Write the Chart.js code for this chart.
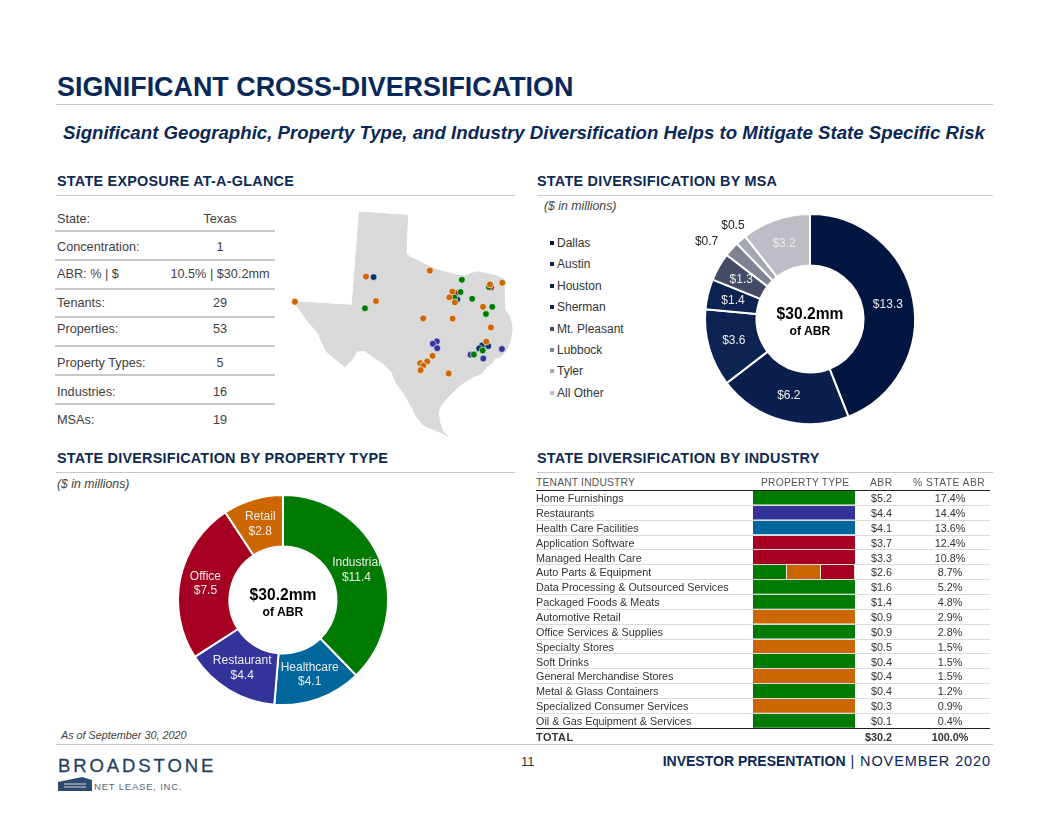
<!DOCTYPE html>
<html>

<head>
	<meta charset="utf-8">
	<title>Significant Cross-Diversification</title>
	<script src="https://cdn.jsdelivr.net/npm/chart.js@4"></script>
	<style>
		html, body { margin: 0; background: #fff; }
		#page { position: relative; width: 1056px; height: 816px; overflow: hidden; font-family: "Liberation Sans", Arial, sans-serif; color: #333; }
		#page div, #page canvas { position: absolute; white-space: nowrap; }
		.rule { background: #c8c8c8; height: 1px; }
		.head { font-weight: bold; font-size: 14.4px; color: #0c2a52; top: 173px; letter-spacing: .25px; }
		.note { font-style: italic; font-size: 12.3px; color: #404040; }
		.center { text-align: center; font-weight: bold; color: #000; width: 120px; }
		.c1 { font-size: 15.6px; }
		.c2 { font-size: 12.2px; }
		.st { font-size: 12.7px; color: #404040; }
		.tb { font-size: 10.8px; color: #333; }
		.th { font-size: 10.3px; color: #555; letter-spacing: .45px; }
	</style>
</head>

<body>
	<div id="page">
		<div style="left:57px;top:72px;font-size:26.9px;font-weight:bold;color:#0a2857;">SIGNIFICANT CROSS-DIVERSIFICATION</div>
		<div class="rule" style="left:56px;top:104px;width:937px;"></div>
		<div style="left:63px;top:122px;font-size:18.67px;font-weight:bold;font-style:italic;color:#0a2857;">Significant Geographic, Property Type, and Industry Diversification Helps to Mitigate State Specific Risk</div>

		<div class="head" style="left:57px;">STATE EXPOSURE AT-A-GLANCE</div>
		<div class="rule" style="left:56px;top:195px;width:459px;"></div>
		<div class="head" style="left:537px;">STATE DIVERSIFICATION BY MSA</div>
		<div class="rule" style="left:537px;top:195px;width:456px;"></div>
		<div class="note" style="left:544px;top:199px;">($ in millions)</div>

		<div class="head" style="left:57px;top:450px;">STATE DIVERSIFICATION BY PROPERTY TYPE</div>
		<div class="rule" style="left:56px;top:472px;width:459px;"></div>
		<div class="note" style="left:57px;top:477px;">($ in millions)</div>
		<div class="head" style="left:537px;top:450px;">STATE DIVERSIFICATION BY INDUSTRY</div>
		<div class="rule" style="left:537px;top:472px;width:456px;"></div>

		<canvas id="mapChart" width="240" height="240" style="left:280px;top:200px;"></canvas>
		<canvas id="msaChart" width="240" height="240" style="left:690px;top:199px;"></canvas>
		<canvas id="typeChart" width="240" height="240" style="left:163px;top:480px;"></canvas>

		<div class="center c1" style="left:750px;top:305px;">$30.2mm</div>
		<div class="center c2" style="left:750px;top:324px;">of ABR</div>
		<div class="center c1" style="left:223px;top:586px;">$30.2mm</div>
		<div class="center c2" style="left:223px;top:605px;">of ABR</div>

		<div class="note" style="left:61px;top:729px;font-size:10.8px;">As of September 30, 2020</div>
		<div class="rule" style="left:56px;top:744px;width:937px;"></div>

		<div style="left:58px;top:755px;font-size:18.5px;letter-spacing:2.9px;color:#1f3f66;-webkit-text-stroke:.3px #1f3f66;">BROADSTONE</div>
		<svg style="position:absolute;left:58px;top:777px;" width="34" height="15">
			<path d="M0 5 L24 0 L34 3 L34 14 L0 14 Z" fill="#2d4a6e"></path>
			<path d="M6 7 H28 M6 10 H28" stroke="#fff" stroke-width=".8"></path>
		</svg>
		<div style="left:94px;top:781px;font-size:9.5px;letter-spacing:.8px;color:#55667e;">NET LEASE, INC.</div>

		<div style="left:521px;top:754px;font-size:13px;color:#333;">11</div>
		<div style="right:65px;top:753px;font-size:14px;color:#0a2857;"><b>INVESTOR PRESENTATION</b><span style="font-size:14.5px;letter-spacing:.9px;"> | NOVEMBER 2020</span></div>

		<canvas id="barChart" width="102" height="238" style="left:753px;top:490px;"></canvas>
	</div>

	<script>
		// state summary
		var stateLabels = ["State:", "Concentration:", "ABR: % | $", "Tenants:", "Properties:", "Property Types:", "Industries:", "MSAs:"];
		var stateValues = ["Texas", "1", "10.5% | $30.2mm", "29", "53", "5", "16", "19"];

		// by MSA
		var msaLabels = ["Dallas", "Austin", "Houston", "Sherman", "Mt. Pleasant", "Lubbock", "Tyler", "All Other"];
		var msaValues = [13.3, 6.2, 3.6, 1.4, 1.3, 0.7, 0.5, 3.2];

		// by property type
		var typeLabels = ["Industrial", "Healthcare", "Restaurant", "Office", "Retail"];
		var typeValues = [11.4, 4.1, 4.4, 7.5, 2.8];

		// by industry
		var industryNames = ["Home Furnishings", "Restaurants", "Health Care Facilities", "Application Software", "Managed Health Care", "Auto Parts & Equipment", "Data Processing & Outsourced Services", "Packaged Foods & Meats", "Automotive Retail", "Office Services & Supplies", "Specialty Stores", "Soft Drinks", "General Merchandise Stores", "Metal & Glass Containers", "Specialized Consumer Services", "Oil & Gas Equipment & Services"];
		var industryAbr = [5.2, 4.4, 4.1, 3.7, 3.3, 2.6, 1.6, 1.4, 0.9, 0.9, 0.5, 0.4, 0.4, 0.4, 0.3, 0.1];
		var industryPct = [17.4, 14.4, 13.6, 12.4, 10.8, 8.7, 5.2, 4.8, 2.9, 2.8, 1.5, 1.5, 1.5, 1.2, 0.9, 0.4];
		var shareIndustrial = [1, 0, 0, 0, 0, 1 / 3, 1, 1, 0, 1, 0, 1, 0, 1, 0, 1];
		var shareRetail = [0, 0, 0, 0, 0, 1 / 3, 0, 0, 1, 0, 1, 0, 1, 0, 1, 0];
		var shareOffice = [0, 0, 0, 1, 1, 1 / 3, 0, 0, 0, 0, 0, 0, 0, 0, 0, 0];
		var shareRestaurant = [0, 1, 0, 0, 0, 0, 0, 0, 0, 0, 0, 0, 0, 0, 0, 0];
		var shareHealthcare = [0, 0, 1, 0, 0, 0, 0, 0, 0, 0, 0, 0, 0, 0, 0, 0];

		// texas outline and property locations, longitude / latitude
		var outlineLon = [-102.68, -99.77, -99.87, -99.59, -99.23, -98.83, -98.43, -98.03, -97.42, -96.82, -96.32, -96.02, -95.62, -95.01, -94.41, -93.97, -93.91, -93.61, -93.47, -93.57, -93.81, -94.21, -94.51, -94.71, -95.01, -95.31, -95.82, -96.32, -96.72, -97.12, -97.52, -97.82, -97.92, -97.82, -97.62, -97.36, -97.62, -98.13, -98.83, -99.23, -99.53, -99.93, -100.44, -100.74, -101.24, -101.84, -102.34, -102.80, -103.15, -103.55, -104.05, -104.65, -104.95, -105.15, -105.76, -106.26, -106.66, -103.11, -102.68];
		var outlineLat = [36.50, 36.34, 34.54, 34.35, 34.23, 34.07, 33.91, 33.78, 33.63, 33.52, 33.47, 33.56, 33.67, 33.59, 33.47, 33.31, 31.86, 31.54, 30.99, 30.43, 29.96, 29.61, 29.57, 29.33, 29.17, 28.85, 28.70, 28.46, 28.22, 27.91, 27.59, 27.27, 26.96, 26.48, 26.09, 25.88, 26.01, 26.17, 26.41, 26.80, 27.27, 27.83, 28.38, 28.93, 29.33, 29.64, 29.93, 29.93, 29.49, 29.17, 29.49, 29.88, 30.36, 30.75, 31.30, 31.86, 32.25, 32.08, 36.50];
		var retailLon = [-106.56, -102.28, -101.68, -98.43, -98.83, -97.06, -97.08, -97.26, -96.92, -94.07, -94.81, -95.23, -94.75, -95.03, -98.27, -98.59, -99.01, -98.83, -98.99, -97.30];
		var retailLat = [32.25, 33.44, 32.28, 33.72, 31.46, 31.45, 32.73, 32.46, 32.22, 33.15, 33.07, 32.01, 31.03, 30.36, 29.69, 29.42, 29.34, 29.22, 29.01, 28.85];
		var industrialLon = [-102.34, -96.50, -96.58, -95.88, -94.67, -95.05, -96.96, -94.87, -95.78, -95.25];
		var industrialLat = [31.94, 33.29, 32.71, 32.39, 32.01, 31.67, 32.46, 32.95, 29.75, 29.94];
		var healthcareLon = [-101.82, -96.78, -95.29, -95.46, -94.91];
		var healthcareLat = [33.42, 32.36, 30.18, 30.04, 30.15];
		var restaurantLon = [-94.09, -95.98, -95.21, -98.01, -98.25, -97.99];
		var restaurantLat = [30.01, 29.74, 29.56, 30.37, 30.26, 30.05];
		var officeLon = [-98.09, -94.75, -96.86];
		var officeLat = [30.21, 32.93, 32.65];

		var green = "#007a00", blue = "#00669c", purple = "#333399", red = "#a50021", orange = "#cc6600", dotNavy = "#0c3468";
		var msaColors = ["#001641", "#0a1f4d", "#0c2250", "#0c2250", "#454b66", "#7f8291", "#a4a6b1", "#bcbdc5"];

		var page = document.getElementById("page");

		function addText(cls, text, style) {
			var el = document.createElement("div");
			el.className = cls;
			el.textContent = text;
			el.style.cssText = style;
			page.appendChild(el);
		}

		function addRule(left, top, width, color, height) {
			var el = document.createElement("div");
			el.style.cssText = "left:" + left + "px;top:" + top + "px;width:" + width + "px;height:" + (height || 1) + "px;background:" + color;
			page.appendChild(el);
		}

		function points(lon, lat) {
			return lon.map(function (x, i) { return { x: x, y: lat[i] }; });
		}

		function money(v) {
			return "$" + v.toFixed(1);
		}

		// left table
		var stateRowY = [212, 240, 267, 296, 322, 356, 385, 413];
		var stateLineY = [230, 259, 288, 316, 345, 374, 403];
		stateLabels.forEach(function (label, i) {
			addText("st", label, "left:57px;top:" + stateRowY[i] + "px;");
			addText("st", stateValues[i], "left:165px;width:110px;text-align:center;top:" + stateRowY[i] + "px;");
			if (i < stateLineY.length) addRule(55, stateLineY[i], 220, "#c8c8c8", 2);
		});

		// msa legend
		msaLabels.forEach(function (label, i) {
			var y = 243 + i * 21.4;
			var sq = document.createElement("div");
			sq.style.cssText = "left:550px;width:4px;height:4px;top:" + (y - 2) + "px;background:" + msaColors[i];
			page.appendChild(sq);
			addText("st", label, "left:557px;color:#333;font-size:12px;top:" + (y - 7) + "px;");
		});

		// industry table
		addText("th", "TENANT INDUSTRY", "left:536px;top:477px;letter-spacing:.18px;");
		addText("th", "PROPERTY TYPE", "left:761px;top:477px;letter-spacing:.2px;");
		addText("th", "ABR", "left:870px;top:477px;");
		addText("th", "% STATE ABR", "left:913px;top:477px;");
		addRule(536, 490, 454, "#222");
		industryNames.forEach(function (name, i) {
			var y = 490.6 + i * 14.86;
			addText("tb", name, "left:536px;top:" + (y + 1.5) + "px;");
			addText("tb", money(industryAbr[i]), "left:860px;width:32px;text-align:right;top:" + (y + 1.5) + "px;");
			addText("tb", industryPct[i].toFixed(1) + "%", "left:920px;width:60px;text-align:center;top:" + (y + 1.5) + "px;");
			if (i < industryNames.length - 1) addRule(536, Math.round(y + 14.2), 454, "#dcdcdc");
		});
		addRule(536, 728, 454, "#222");
		addText("tb", "TOTAL", "left:536px;top:731px;font-weight:bold;letter-spacing:.5px;");
		addText("tb", "$30.2", "left:860px;width:32px;text-align:right;top:731px;font-weight:bold;");
		addText("tb", "100.0%", "left:920px;width:60px;text-align:center;top:731px;font-weight:bold;");

		// writes the value labels on the doughnuts
		var sliceLabels = {
			id: "sliceLabels",
			afterDatasetsDraw: function (chart, args, opts) {
				var ctx = chart.ctx;
				var arcs = chart.getDatasetMeta(0).data;
				ctx.save();
				ctx.font = opts.font;
				ctx.textAlign = "center";
				ctx.textBaseline = "middle";
				arcs.forEach(function (arc, i) {
					var pos = arc.tooltipPosition();
					var lines = opts.text[i];
					var out = opts.outside && opts.outside[i];
					ctx.fillStyle = opts.color;
					if (out) {
						var mid = (arc.startAngle + arc.endAngle) / 2;
						pos = { x: arc.x + Math.cos(mid) * arc.outerRadius * out[0] + out[1], y: arc.y + Math.sin(mid) * arc.outerRadius * out[0] + out[2] };
						ctx.fillStyle = "#222";
					}
					lines.forEach(function (line, n) {
						ctx.fillText(line, pos.x, pos.y + (n - (lines.length - 1) / 2) * 14.5);
					});
				});
				ctx.restore();
			}
		};

		Chart.defaults.animation = false;
		Chart.defaults.responsive = false;
		Chart.defaults.font.family = "'Liberation Sans', Arial, sans-serif";

		function donut(id, labels, values, colors, text, outside, pad) {
			return new Chart(document.getElementById(id), {
				type: "doughnut",
				data: { labels: labels, datasets: [{ data: values, backgroundColor: colors, borderColor: "#fff", borderWidth: 2 }] },
				options: {
					cutout: "51%",
					layout: { padding: pad },
					plugins: {
						legend: { display: false },
						sliceLabels: { font: "12px 'Liberation Sans', Arial, sans-serif", color: "#ececec", text: text, outside: outside }
					}
				},
				plugins: [sliceLabels]
			});
		}

		donut("msaChart", msaLabels, msaValues, msaColors, msaValues.map(function (v) { return [money(v)]; }), { 5: [1.23, -7, 9], 6: [1.16, 3, -2] }, 14);
		donut("typeChart", typeLabels, typeValues, [green, blue, purple, red, orange], typeLabels.map(function (l, i) { return [l, money(typeValues[i])]; }), null, 14);

		// texas map
		function dots(lon, lat, color) {
			return { type: "scatter", data: points(lon, lat), backgroundColor: color, borderColor: "rgba(255,255,255,.75)", borderWidth: 0.8, pointRadius: 3.4, order: 1 };
		}
		new Chart(document.getElementById("mapChart"), {
			type: "scatter",
			data: {
				datasets: [
					{ type: "line", data: points(outlineLon, outlineLat), backgroundColor: "#d9d9d9", borderColor: "#d9d9d9", borderWidth: 1, pointRadius: 0, fill: "shape", tension: 0, order: 2 },
					dots(retailLon, retailLat, orange),
					dots(industrialLon, industrialLat, green),
					dots(restaurantLon, restaurantLat, purple),
					dots(healthcareLon, healthcareLat, dotNavy),
					dots(officeLon, officeLat, red)
				]
			},
			options: {
				layout: { autoPadding: false },
				scales: {
					x: { type: "linear", display: false, min: -107.46, max: -93.0 },
					y: { type: "linear", display: false, min: 25.70, max: 37.07 }
				},
				plugins: { legend: { display: false }, tooltip: { enabled: false } }
			}
		});

		// property type column of the industry table
		function stack(label, values, color) {
			return {
				label: label, data: values, backgroundColor: color, borderColor: "#ece6d0",
				borderWidth: function (c) { return c.raw > 0 && c.raw < 1 ? { right: 1 } : 0; },
				borderSkipped: false
			};
		}
		new Chart(document.getElementById("barChart"), {
			type: "bar",
			data: {
				labels: industryNames,
				datasets: [
					stack("Industrial", shareIndustrial, green),
					stack("Retail", shareRetail, orange),
					stack("Office", shareOffice, red),
					stack("Restaurant", shareRestaurant, purple),
					stack("Healthcare", shareHealthcare, blue)
				]
			},
			options: {
				indexAxis: "y",
				barPercentage: 0.95,
				categoryPercentage: 1,
				scales: {
					x: { stacked: true, display: false, min: 0, max: 1 },
					y: { stacked: true, display: false }
				},
				plugins: { legend: { display: false } }
			}
		});
	</script>
</body>

</html>
